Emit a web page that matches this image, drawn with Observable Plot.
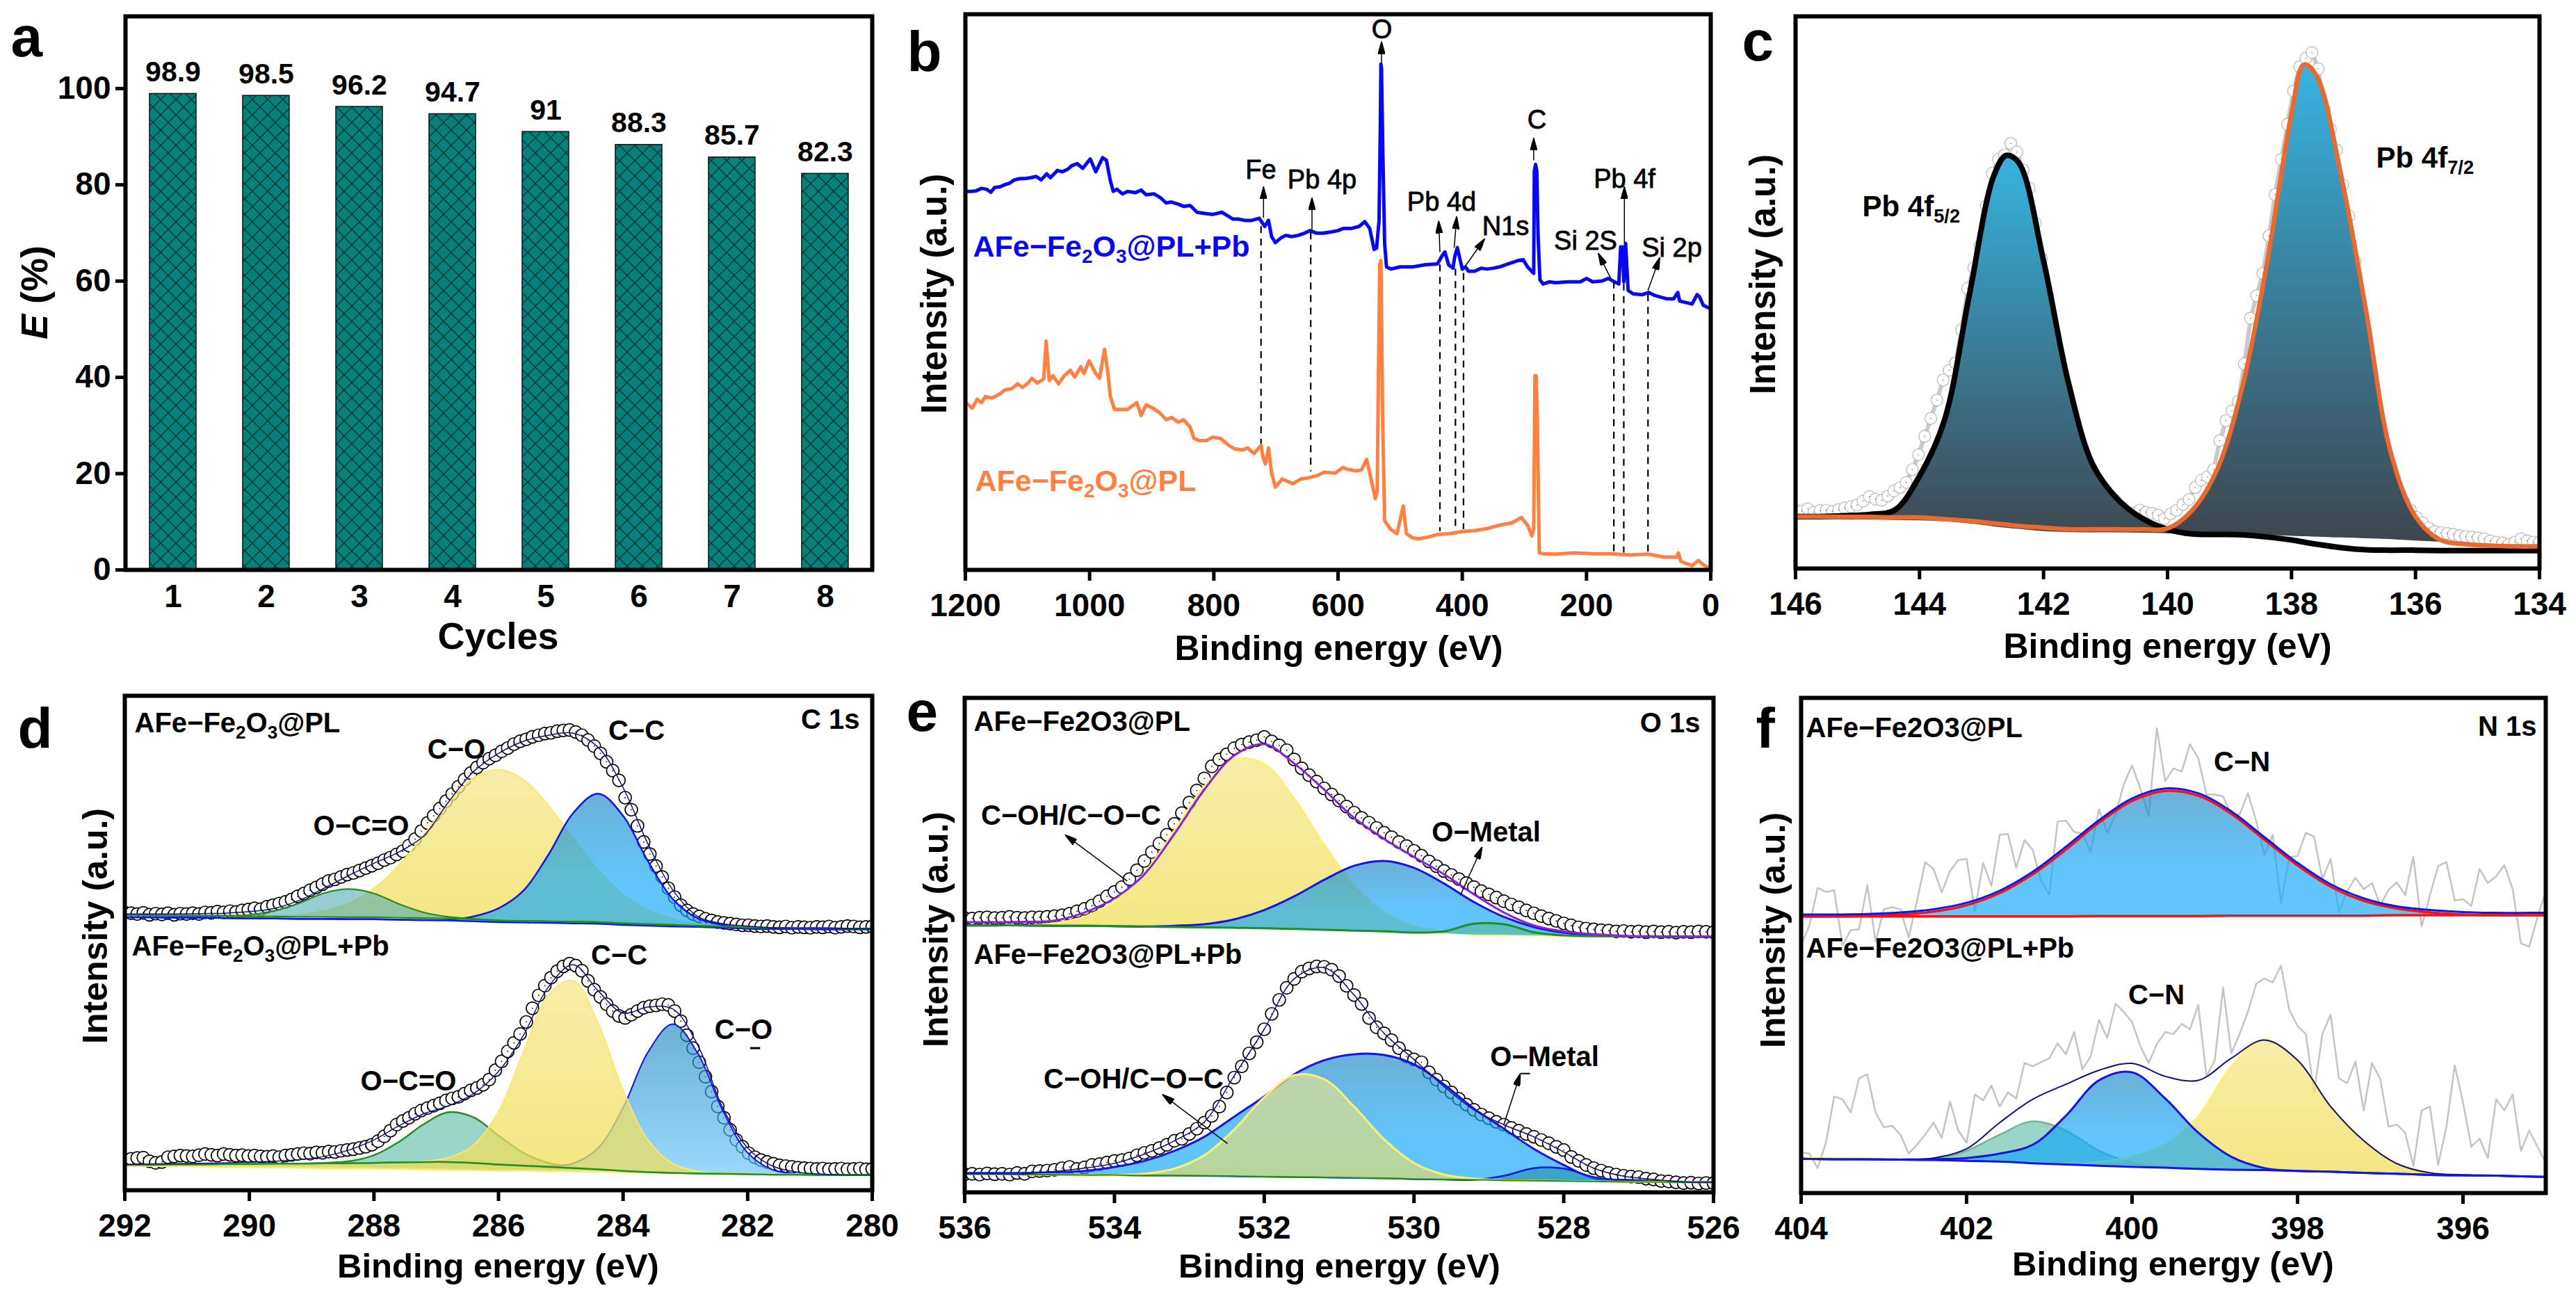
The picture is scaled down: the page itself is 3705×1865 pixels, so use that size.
<!DOCTYPE html>
<html><head><meta charset="utf-8">
<script src="https://cdn.jsdelivr.net/npm/d3@7"></script>
<script src="https://cdn.jsdelivr.net/npm/@observablehq/plot@0.6"></script>
<style>
html,body{margin:0;padding:0;background:#fff}
#page{position:relative;width:3705px;height:1865px;background:#fff;overflow:hidden}
#page svg.panel{position:absolute;overflow:visible}
</style></head><body>
<svg width="0" height="0" style="position:absolute"><defs>
<pattern id="hatch" width="22" height="22" patternUnits="userSpaceOnUse">
<rect width="22" height="22" fill="#05807a"/><path d="M0,0L22,22M22,0L0,22" stroke="#06302e" stroke-width="1.3"/></pattern>
<linearGradient id="cGrad" x1="0" y1="0" x2="0" y2="1"><stop offset="0" stop-color="#36b3e0"/><stop offset="1" stop-color="#3e444c"/></linearGradient>
<linearGradient id="yGrad" x1="0" y1="0" x2="0" y2="1"><stop offset="0" stop-color="#f5e78a"/><stop offset="1" stop-color="#efde56"/></linearGradient>
<linearGradient id="bGrad" x1="0" y1="0" x2="0" y2="1"><stop offset="0" stop-color="#1b86c0"/><stop offset=".65" stop-color="#0da6f9"/><stop offset="1" stop-color="#0da6f9"/></linearGradient>
<linearGradient id="b2Grad" x1="0" y1="0" x2="0" y2="1"><stop offset="0" stop-color="#1b86c0"/><stop offset="1" stop-color="#62c4fb"/></linearGradient>
</defs></svg>
<div id="page"></div>
<script>
// ---------- panel a
const cycles=[1,2,3,4,5,6,7,8];
const efficiency=[98.9,98.5,96.2,94.7,91,88.3,85.7,82.3];
const ticksA=[0,20,40,60,80,100];

// ---------- panel b (survey)
const blueE=[1200,1191,1183,1174,1166,1159,1153,1144,1136,1129,1121,1112,1104,1095,1086,1078,1069,1063,1052,1044,1035,1029,1020,1011,999,990,979,973,966.5,962,956,947,939,926,917,909,896,885,877,868,857,849,838,827,814,802,787,778,769,761,750,739,727,718,712,707,701,692,684,675,664,654,645,634,624,611,600,592,579,566,557,549,542,538,534,532,531,530,528,525,522,515,500,480,460,440,433,428,422,415,412,408,404,400,395,390,380,370,360,350,340,330,320,310,302,295,285,284,282,280,278,275,270,260,250,230,210,200,190,175,165,155,148,145,142,140,137,133,125,110,100,90,70,60,53,50,30,22,18,12,5,0];
const blueI=[887,887,888,894,892,885,896,898,903,906,914,917,917,919,922,914,928,919,936,933,939,947,952,941,963,933,966,960,911,887,892,881,887,884,890,879,881,871,860,862,857,852,854,838,835,833,838,830,822,822,819,819,824,805,819,781,767,778,784,781,784,789,795,789,789,792,795,800,800,805,816,800,751,754,819,1035,1185,1175,985,765,710,705,710,710,715,717,735,745,715,707,735,755,730,705,710,700,700,707,705,707,710,715,720,725,727,710,695,935,950,935,785,680,670,675,673,675,675,683,675,677,683,675,670,757,757,675,765,655,647,645,650,643,635,635,650,630,623,645,640,620,615,613];
const orangeE=[1200,1195,1189,1181,1174,1168,1157,1146,1136,1125,1116,1108,1099,1093,1084,1074,1070,1065,1059,1050,1041,1031,1024,1014,1009,1001,990,984,976,971,966.5,960,951.5,939,924,917,909,898,887,876.5,868,857,849,838,832,823,812,802,789,776,767,754,746,735,724,721,717,712,707,701,690,673,660,647,634,622,604.5,592.5,583,570,562,554,549,540,537,533,531,528,525,515,505,495,490,480,470,455,440,420,400,380,360,340,320,305,295,288,285,283,281,279,276,270,250,220,190,160,130,100,75,55,52,48,30,20,10,0];
const orangeI=[392,387,379,400,392,406,403,411,422,425,436,428,438,449,438,447,536,444,455,436,455,468,452,476,460,490,460,449,517,466,406,376,376,376,392,362,387,379,368,352,357,346,352,335,308,303,303,311,308,292,284,281,286,273,292,265,248,286,227,194,213,202,213,216,221,229,227,240,235,232,235,259,227,167,185,715,725,335,115,95,85,150,85,75,73,77,83,85,90,92,97,105,110,123,105,80,95,455,455,335,40,38,37,40,38,38,35,37,30,30,40,20,10,22,10,3];
const dashesB=[[724,805,295],[644,790,230],[436,715,90],[411,705,90],[398,695,95],[156,675,40],[140,670,40],[101,645,40]];
const arrowsB=[[720,825,720,898],[642,795,642,872],[530,1185,530,1238],[285,960,285,1012],[436,745,438,818],[413,755,409,828],[396,710,364,776],[161,683,181,742],[139,765,139,898],[101,655,82,732]];
const ticksB=[1200,1000,800,600,400,200,0];

// ---------- panel c (Pb 4f)
const fitGridC=[146,145.6,145.2,144.8,144.4,144,143.6,143.2,142.8,142.6,142.4,142,141.6,141.2,140.8,140.4,140,139.6,139.2,138.8,138.4,138,137.8,137.6,137.2,136.8,136.4,136,135.6,135.2,134.8,134.4,134];
const cBlack=[122,122,124,127,137,217,347,639,922,969,952,722,437,242,162,117,92,81,80,79,74,67,62,57,49,44,43,43,42,42,42,42,42];
const cBaseBlack=[115,115,114,114,113,112,110,105,98,95,92,87,85,84,84,83,82,81,80,79,74,67,62,57,49,44,43,43,42,42,42,42,42];
const cOrange=[122,122,121,121,120,120,116,112,106,103,100,96,92,92,92,92,94,137,232,422,712,1067,1182,1157,922,607,272,122,67,57,54,52,52];
const cBase2=[122,122,121,121,120,120,116,112,106,103,100,96,92,92,92,92,82,81,80,79,78,76,75,74,72,70,68,65,62,55,54,52,52];
const cRaw=[137,135,140,132,136,137,134,138,142,145,149,
158,169,163,160,170,182,190,202,232,267,
310,352,395,442,465,482,560,657,705,757,
850,927,960,970,997,977,935,892,810,727,
640,557,490,422,365,312,270,237,205,182,
170,160,145,132,130,137,132,130,125,117,
128,137,150,162,190,207,215,232,300,347,
370,392,480,587,640,692,780,877,960,1042,
1120,1177,1197,1210,1172,1077,1030,982,900,827,
720,612,480,347,295,242,205,177,155,137,
120,107,95,87,84,82,80,77,75,74,
72,70,65,62,60,57,62,70,65,62,62];
const ticksC=[146,144,142,140,138,136,134];

// ---------- panel d (C 1s)
const fitGridD=[292,291.6,291.2,290.8,290.4,290,289.6,289.2,288.8,288.4,288,287.6,287.2,286.8,286.4,286,285.6,285.2,284.8,284.4,284,283.6,283.2,282.8,282.4,282,281.6,281.2,280.8,280.4,280];
const dTopBase=[683,683,682,682,681,680,680,679,679,678,678,677,676,675,673,670,669,668,667,666,663,661,659,657,655,653,652,651,651,650,650];
const dTopBlueBase=[678,678,677,677,676,675,675,674,674,673,673,672,671,670,668,666,665,664,663,662,659,657,655,654,652,650,649,649,648,648,648];
const dTopYellow=[683,683,682,682,681,680,682,684,694,713,750,807,883,963,1024,1045,1020,956,874,796,735,696,674,662,657,653,652,651,651,650,650];
const dTopBlue=[678,678,677,677,676,675,675,674,674,673,673,672,671,672,680,700,744,833,937,985,930,817,723,675,659,650,649,649,648,648,648];
const dTopGreen=[683,683,682,682,682,684,694,713,738,748,737,711,690,679,674,670,669,668,667,666,663,661,659,657,655,653,652,651,651,650,650];
const dTopFit=[686,686,686,687,688,692,700,720,750,782,812,840,880,965,1040,1085,1115,1130,1135,1100,1000,860,745,680,662,656,652,651,651,650,650];
const dTopRaw=[690,688,686,689,684,687,685,688,684,687,686,
688,686,690,689,692,690,693,691,695,697,
700,698,704,708,712,716,722,730,737,745,
752,760,768,772,778,784,788,794,800,806,
812,820,826,834,842,856,872,892,912,930,
948,966,984,1002,1020,1036,1050,1062,1072,1080,
1090,1098,1108,1115,1120,1126,1130,1134,1136,1140,
1142,1143,1138,1130,1118,1103,1085,1064,1042,1018,
975,945,905,865,835,805,778,750,728,708,
695,686,680,674,670,666,664,662,660,658,
658,656,655,656,654,653,655,652,654,653,
652,654,653,655,652,654,656,655,653,654,655];
const dBotBase=[63,63,64,64,65,65,66,66,67,67,68,69,70,70,68,64,61,58,55,52,48,45,43,42,41,40,39,39,38,38,38];
const dBotLowBase=[61,60,60,59,58,58,57,56,55,55,54,53,52,51,50,49,49,48,47,46,45,44,44,43,42,41,40,40,39,39,38];
const dBotYellow=[63,63,64,64,65,65,66,66,67,67,68,69,72,81,112,196,343,485,521,414,249,125,66,47,42,41,40,40,39,39,38];
const dBotBlue=[63,63,64,64,65,65,66,66,67,67,68,69,70,70,68,64,61,60,67,105,205,343,413,340,198,93,51,41,38,38,38];
const dBotGreen=[63,63,64,64,65,65,66,66,68,72,87,120,164,194,181,136,93,68,58,52,48,45,43,42,41,40,39,39,38,38,38];
const dBotFit=[64,65,66,67,68,70,72,76,84,100,125,160,190,210,240,295,385,505,560,495,440,455,450,360,205,105,60,45,40,38,38];
const dBotRaw=[76,78,80,81,72,68,70,82,84,86,85,
84,87,90,88,86,90,88,86,87,85,
86,84,83,85,82,86,88,90,92,91,
94,93,96,95,98,100,102,105,108,113,
122,134,148,163,172,180,190,198,204,210,
216,223,228,232,240,248,254,262,275,298,
320,345,366,388,418,452,484,508,528,544,
556,563,558,545,520,498,480,462,445,433,
428,436,445,453,457,459,462,460,445,420,
385,353,318,282,245,208,180,150,125,108,
92,82,75,70,66,62,60,58,56,55,
54,53,54,52,53,54,52,53,54,52,53];
const strayD=[[281.96,353,281.8,353]];
const ticksD=[292,290,288,286,284,282,280];

// ---------- panel e (O 1s)
const fitGridE=[536,535.6,535.2,534.8,534.4,534,533.6,533.2,532.8,532.4,532,531.6,531.2,530.8,530.4,530,529.6,529.2,528.8,528.4,528,527.6,527.2,526.8,526.4,526];
const eTopBase=[663,663,663,662,662,661,660,659,658,657,656,654,652,650,648,645,643,640,639,638,637,636,636,635,635,635];
const eTopYellow=[663,663,663,669,685,723,794,899,1009,1076,1064,979,864,763,697,662,648,640,639,638,637,636,636,635,635,635];
const eTopBlue=[663,663,663,662,662,661,660,662,666,678,701,735,776,811,823,806,767,721,684,659,645,639,636,635,635,635];
const eTopGreen=[663,663,663,662,662,661,660,659,658,657,656,654,652,650,648,645,648,667,666,646,638,636,636,635,635,635];
const eTopFit=[671,671,672,675,695,730,790,890,1000,1085,1113,1065,1000,930,878,833,790,740,695,663,648,641,637,636,635,635];
const eTopRaw=[681,680,682,683,681,682,684,682,681,683,683,
684,686,688,692,698,704,712,723,735,746,
758,778,800,823,845,866,888,915,942,968,
998,1028,1058,1075,1088,1103,1112,1118,1123,1131,
1120,1110,1098,1075,1053,1036,1020,1003,988,973,
958,943,930,918,905,893,882,870,860,848,
836,822,810,798,788,778,768,758,748,740,
732,723,715,708,700,693,686,680,674,668,
663,658,655,653,651,650,648,649,647,648,
646,648,646,647,645,647,646,648,647,646];
const eBotBase=[45,45,44,44,43,43,42,42,41,40,39,38,37,36,35,33,32,31,30,29,28,27,26,26,25,25];
const eBotBlue=[48,48,48,50,53,63,78,103,138,188,238,293,328,343,341,318,268,208,158,108,68,35,31,28,26,25];
const eBotYellow=[45,45,44,44,43,43,46,59,92,156,236,291,281,213,132,73,44,34,30,29,28,27,26,26,25,25];
const eBotSmall=[45,45,44,44,43,43,42,42,41,40,39,38,37,36,35,33,32,31,41,60,59,38,29,26,25,25];
const eBotFit=[46,46,46,52,60,72,95,128,175,290,405,530,558,490,395,330,263,205,168,138,100,60,40,32,26,25];
const eBotRaw=[45,46,44,47,45,46,44,48,46,52,53,
54,56,60,63,58,62,68,70,74,78,
80,84,92,98,103,110,118,128,133,145,
158,173,190,213,248,285,313,345,373,405,
443,478,508,530,548,556,561,560,553,537,
513,490,468,433,410,395,378,358,338,330,
323,298,280,263,248,232,218,205,193,184,
175,168,160,153,145,138,130,122,113,105,
88,78,68,60,54,48,44,41,39,38,
34,32,28,27,25,23,24,22,23,23];
const arrowsE=[[533.83,773,534.66,888],[529.38,738,529.09,858],[532.49,121,533.36,243],[528.8,168,528.58,295]];
const flagE=[[528.58,295,528.45,295]];
const ticksE=[536,534,532,530,528,526];

// ---------- panel f (N 1s)
const fitGridF=[404,403.6,403.2,402.8,402.4,402,401.6,401.2,400.8,400.4,400,399.6,399.2,398.8,398.4,398,397.6,397.2,396.8,396.4,396,395.6,395.2,395];
const fTopBase=[687,687,687,687,687,687,687,687,687,688,688,688,688,689,689,689,689,689,690,690,690,690,690,690];
const fTopRed=[687,687,689,692,699,715,745,792,853,920,974,999,987,942,878,814,761,726,707,697,692,690,690,690];
const fTopBlue=[692,692,693,697,705,721,751,798,860,926,980,1005,993,948,884,820,767,732,712,703,698,696,696,696];
const fTopRaw=[615,665,758,748,752,615,653,655,765,625,705,710,705,635,725,822,805,747,800,827,830,700,820,763,890,892,808,877,852,775,742,923,925,897,893,848,953,895,940,1015,1062,1005,937,1155,1023,1055,1047,1115,1080,990,990,985,940,940,993,925,840,890,720,835,837,895,885,780,830,697,750,783,755,770,715,753,772,740,835,662,740,812,822,727,730,713,805,770,787,815,755,620,612,685,750];
const fBotBase=[85,84,84,83,82,80,78,74,71,68,65,63,60,58,57,55,53,50,48,45,44,43,41,40];
const fBotYellow=[87,86,85,85,84,82,79,76,73,77,90,120,190,315,380,330,215,130,73,50,45,43,41,40];
const fBotBlue=[85,84,84,83,84,87,98,120,192,280,300,235,150,90,62,55,53,50,48,45,44,43,41,40];
const fBotGreen=[85,84,84,83,83,105,145,178,155,105,75,64,60,58,57,55,53,50,48,45,44,43,41,40];
const fBotFit=[85,84,84,84,87,110,175,233,270,305,322,290,280,335,380,330,215,130,73,50,45,43,41,40];
const fBotRaw=[100,98,62,125,240,233,200,285,295,200,163,167,145,98,120,145,175,137,227,155,125,245,230,267,215,250,235,323,315,325,335,372,345,400,307,340,430,385,470,450,425,365,323,370,400,395,420,407,467,290,330,510,347,395,450,520,533,523,565,455,415,395,250,395,443,285,273,327,205,323,283,165,170,150,67,205,215,70,165,317,225,115,135,87,233,205,245,105,155,115,75];
const ticksF=[404,402,400,398,396];

// ---------- helpers
const FONT="'Liberation Sans',Arial,sans-serif";
const page=document.getElementById("page");
const scan=(hi,lo,n)=>d3.range(n).map(i=>hi-(hi-lo)*i/(n-1));
const CURVE="catmull-rom";

function arrowHead(){
  const ns="http://www.w3.org/2000/svg";
  const m=document.createElementNS(ns,"marker");
  m.setAttribute("viewBox","-18 -5 18 10");
  m.setAttribute("markerWidth","18");m.setAttribute("markerHeight","10");
  m.setAttribute("markerUnits","userSpaceOnUse");m.setAttribute("orient","auto");
  const p=document.createElementNS(ns,"path");
  p.setAttribute("d","M0,0L-18,-5L-18,5Z");p.setAttribute("fill","#000");
  m.appendChild(p);return m;
}
function richText(svg){
  svg.querySelectorAll("text").forEach(t=>{
    const s=t.textContent;
    if(!/_\{|\*/.test(s))return;
    t.textContent="";
    let back=false;
    s.split(/(_\{[^}]*\}|\*[^*]*\*)/).filter(Boolean).forEach(part=>{
      const sp=document.createElementNS("http://www.w3.org/2000/svg","tspan");
      if(part.startsWith("_{")){
        sp.textContent=part.slice(2,-1);sp.setAttribute("font-size","65%");sp.setAttribute("dy","0.35em");back=true;
      }else{
        if(part.startsWith("*")){sp.textContent=part.slice(1,-1);sp.setAttribute("font-style","italic");}
        else sp.textContent=part;
        if(back){sp.setAttribute("dy","-0.2275em");back=false;}
      }
      t.appendChild(sp);
    });
  });
}
function noteFn(f){
  return (txt,px,py,opt={})=>Plot.text([txt],{text:d=>d,frameAnchor:"top-left",dx:px-f.l,dy:py-f.t,textAnchor:"start",lineAnchor:"bottom",fontSize:40,fontWeight:"bold",fill:"#000",...opt});
}
function peak(xs,base,vals,{fill,op=1,stroke,sw=2.5}){
  const idx=d3.range(xs.length),out=[];
  if(fill)out.push(Plot.areaY(idx,{x:i=>xs[i],y1:i=>base[i],y2:i=>vals[i],curve:CURVE,fill,fillOpacity:op}));
  if(stroke)out.push(Plot.line(idx,{x:i=>xs[i],y:i=>vals[i],curve:CURVE,stroke,strokeWidth:sw}));
  return out;
}
function curve(xs,vals,stroke,sw,curveName=CURVE){
  const idx=d3.range(xs.length);
  return Plot.line(idx,{x:i=>xs[i],y:i=>vals[i],curve:curveName,stroke,strokeWidth:sw,clip:"frame"});
}
function rawDots(xs,vals,{r=9,stroke="#000",sw=1.7,fill="#fff",core="#000"}={}){
  const idx=d3.range(xs.length);
  return [
    Plot.dot(idx,{x:i=>xs[i],y:i=>vals[i],r,stroke,strokeWidth:sw,fill,clip:"frame"}),
    Plot.dot(idx,{x:i=>xs[i],y:i=>vals[i],r:.9,fill:core,stroke:"none",clip:"frame"})
  ];
}
function xAxis(ticks,{tickSize=16,tickPadding=18}={}){
  return Plot.axisX(ticks,{tickSize,tickPadding,fontSize:46,fontWeight:"bold",strokeWidth:5,tickFormat:d=>String(d),label:null,anchor:"bottom"});
}
function draw(box,f,xScale,yMax,marks){
  const plot=Plot.plot({
    width:box[2]-box[0],height:box[3]-box[1],
    marginLeft:f.l-box[0],marginRight:box[2]-f.r,marginTop:f.t-box[1],marginBottom:box[3]-f.b,
    x:xScale,y:{domain:[0,yMax],axis:null},
    style:{fontFamily:FONT,background:"transparent",overflow:"visible",color:"#000"},
    marks
  });
  plot.classList.add("panel");
  plot.style.left=box[0]+"px";plot.style.top=box[1]+"px";
  richText(plot);
  page.appendChild(plot);
}
const rowTitle=(n,cx,y,size=50)=>n("Binding energy (eV)",cx,y,{textAnchor:"middle",fontSize:size});
const yTitle=(n,t,cx,cy,size=51)=>n(t,cx,cy,{rotate:-90,textAnchor:"middle",lineAnchor:"middle",fontSize:size});

// ---------- a
{
  const f={l:180,r:1254,t:23,b:819},n=noteFn(f);
  const plot=Plot.plot({
    width:1290,height:960,marginLeft:f.l,marginRight:1290-f.r,marginTop:f.t,marginBottom:960-f.b,
    x:{type:"band",domain:cycles,paddingInner:.5,paddingOuter:.25},
    y:{domain:[0,115]},
    style:{fontFamily:FONT,background:"transparent",overflow:"visible",color:"#000"},
    marks:[
      Plot.barY(efficiency,{x:(d,i)=>cycles[i],y:d=>d,fill:"url(#hatch)",stroke:"#111",strokeWidth:1.5}),
      Plot.text(efficiency,{x:(d,i)=>cycles[i],y:d=>d,text:d=>String(d),dy:-18,lineAnchor:"bottom",fontSize:41,fontWeight:"bold"}),
      Plot.axisX({tickSize:0,tickPadding:21,fontSize:46,fontWeight:"bold",label:null,tickFormat:d=>String(d)}),
      Plot.axisY(ticksA,{tickSize:14,tickPadding:7,fontSize:46,fontWeight:"bold",strokeWidth:5,label:null,tickFormat:d=>String(d)}),
      Plot.frame({stroke:"#000",strokeWidth:6}),
      n("a",15,80,{fontSize:82}),
      n("Cycles",716,932,{textAnchor:"middle",fontSize:54}),
      yTitle(n,"*E* (%)",50,420,54)
    ]
  });
  plot.classList.add("panel");plot.style.left="0px";plot.style.top="0px";richText(plot);page.appendChild(plot);
}
// ---------- b
{
  const f={l:1388,r:2460,t:20,b:819},n=noteFn(f),S=38;
  draw([1290,0,2490,960],f,{domain:[1200,0]},1302,[
    curve(orangeE,orangeI,"#ff8040",5,"linear"),
    curve(blueE,blueI,"#0808f0",5,"linear"),
    Plot.ruleX(dashesB,{x:d=>d[0],y1:d=>d[1],y2:d=>d[2],stroke:"#000",strokeWidth:2.2,strokeDasharray:"10,8"}),
    Plot.link(arrowsB,{x1:d=>d[0],y1:d=>d[1],x2:d=>d[2],y2:d=>d[3],stroke:"#000",strokeWidth:1.5,markerEnd:arrowHead}),
    xAxis(ticksB),
    Plot.frame({stroke:"#000",strokeWidth:6}),
    n("b",1304,101,{fontSize:82}),
    rowTitle(n,1925,948),
    yTitle(n,"Intensity (a.u.)",1344,422),
    ...[["O",1987,54],["C",2210,184],["Fe",1813,256],["Pb 4p",1901,270],["Pb 4d",2073,302],["N1s",2165,337],["Pb 4f",2336,269],["Si 2S",2280,358],["Si 2p",2404,368]]
      .map(([t,x,y])=>n(t,x,y,{textAnchor:"middle",fontSize:S,fontWeight:"normal",stroke:"#000",strokeWidth:.8})),
    n("AFe−Fe_{2}O_{3}@PL+Pb",1399,368,{fontSize:43,fill:"#0808f0"}),
    n("AFe−Fe_{2}O_{3}@PL",1402,705,{fontSize:43,fill:"#ff8040"})
  ]);
}
// ---------- c
{
  const f={l:2582,r:3652,t:23,b:817},n=noteFn(f);
  const rawX=scan(146,134,cRaw.length);
  draw([2490,0,3705,960],f,{domain:[146,134]},1295,[
    curve(rawX,cRaw,"#c9c9c9",6,"linear"),
    ...rawDots(rawX,cRaw,{r:8.5,stroke:"#b5b5b5",sw:1.2,core:"#888"}),
    ...peak(fitGridC,cBaseBlack,cBlack,{fill:"url(#cGrad)"}),
    ...peak(fitGridC,cBase2,cOrange,{fill:"url(#cGrad)"}),
    curve(fitGridC,cBlack,"#000",8),
    curve(fitGridC,cOrange,"#e86a2e",6.5),
    xAxis(ticksC),
    Plot.frame({stroke:"#000",strokeWidth:6}),
    n("c",2505,86,{fontSize:82}),
    rowTitle(n,3117,945),
    yTitle(n,"Intensity (a.u.)",2536,394),
    n("Pb 4f_{5/2}",2678,310,{fontSize:42}),
    n("Pb 4f_{7/2}",3417,240,{fontSize:42})
  ]);
}
// ---------- d
{
  const f={l:179,r:1254,t:1000,b:1711},n=noteFn(f);
  const g=fitGridD,rawX=scan(292,280,dTopRaw.length);
  draw([0,960,1290,1865],f,{domain:[292,280]},1228,[
    ...rawDots(rawX,dTopRaw),
    ...rawDots(rawX,dBotRaw),
    ...peak(g,dTopBase,dTopYellow,{fill:"url(#yGrad)",op:.74,stroke:"#fbe96c",sw:2}),
    ...peak(g,dTopBase,dTopGreen,{fill:"#4eacb1",op:.6}),
    ...peak(g,dTopBlueBase,dTopBlue,{fill:"url(#bGrad)",op:.65,stroke:"#1414e8",sw:2.5}),
    curve(g,dTopBlueBase,"#1414e8",2.5),
    curve(g,dTopGreen,"#1f8f1f",2.2),
    curve(g,dTopBase,"#1f8f1f",2.2),
    curve(g,dTopFit,"#10107a",1.5),
    ...peak(g,dBotLowBase,dBotGreen,{fill:"#57bba3",op:.6,stroke:"#1f8f1f",sw:2.5}),
    ...peak(g,dBotBase,dBotBlue,{fill:"url(#b2Grad)",op:.65,stroke:"#1414e8",sw:2}),
    ...peak(g,dBotLowBase,dBotYellow,{fill:"url(#yGrad)",op:.74,stroke:"#fbe96c",sw:2}),
    curve(g,dBotLowBase,"#fbe96c",2.5),
    curve(g,dBotBase,"#1f8f1f",2.5),
    curve(g,dBotFit,"#10107a",1.5),
    Plot.link(strayD,{x1:d=>d[0],y1:d=>d[1],x2:d=>d[2],y2:d=>d[3],stroke:"#000",strokeWidth:3}),
    xAxis(ticksD),
    Plot.frame({stroke:"#000",strokeWidth:6}),
    n("d",25,1074,{fontSize:82}),
    rowTitle(n,716,1836,49),
    yTitle(n,"Intensity (a.u.)",137,1331,50),
    n("AFe−Fe_{2}O_{3}@PL",193,1052),
    n("C 1s",1236,1047,{textAnchor:"end"}),
    n("C−O",656,1090,{textAnchor:"middle"}),
    n("C−C",915,1063,{textAnchor:"middle"}),
    n("O−C=O",519,1200,{textAnchor:"middle"}),
    n("AFe−Fe_{2}O_{3}@PL+Pb",189,1373),
    n("C−C",890,1386,{textAnchor:"middle"}),
    n("C−O",1069,1493,{textAnchor:"middle"}),
    n("O−C=O",587,1567,{textAnchor:"middle"})
  ]);
}
// ---------- e
{
  const f={l:1387,r:2464,t:1003,b:1714},n=noteFn(f);
  const g=fitGridE,rawX=scan(536,526,eTopRaw.length);
  draw([1290,960,2490,1865],f,{domain:[536,526]},1228,[
    ...rawDots(rawX,eTopRaw),
    ...rawDots(rawX,eBotRaw),
    ...peak(g,eTopBase,eTopYellow,{fill:"url(#yGrad)",op:.74,stroke:"#fff06a",sw:2.5}),
    ...peak(g,eTopBase,eTopBlue,{fill:"url(#bGrad)",op:.65,stroke:"#1414e8",sw:3}),
    ...peak(g,eTopBase,eTopGreen,{fill:"#57bba3",op:.6,stroke:"#1f8f1f",sw:3}),
    curve(g,eTopFit,"#8a22d8",3),
    ...peak(g,eBotBase,eBotBlue,{fill:"url(#bGrad)",op:.65,stroke:"#1414e8",sw:3}),
    ...peak(g,eBotBase,eBotSmall,{fill:"#1f8fa0",op:.6,stroke:"#1414e8",sw:2.5}),
    ...peak(g,eBotBase,eBotYellow,{fill:"url(#yGrad)",op:.6,stroke:"#fff06a",sw:3}),
    curve(g,eBotBase,"#1f8f1f",2),
    curve(g,eBotFit,"#10107a",1.5),
    Plot.link(arrowsE,{x1:d=>d[0],y1:d=>d[1],x2:d=>d[2],y2:d=>d[3],stroke:"#000",strokeWidth:1.5,markerEnd:arrowHead}),
    Plot.link(flagE,{x1:d=>d[0],y1:d=>d[1],x2:d=>d[2],y2:d=>d[3],stroke:"#000",strokeWidth:2}),
    xAxis(ticksE),
    Plot.frame({stroke:"#000",strokeWidth:6}),
    n("e",1303,1050,{fontSize:82}),
    rowTitle(n,1926,1836,49),
    yTitle(n,"Intensity (a.u.)",1346,1336,50),
    n("AFe−Fe2O3@PL",1400,1050),
    n("O 1s",2445,1052,{textAnchor:"end"}),
    n("C−OH/C−O−C",1540,1185,{textAnchor:"middle"}),
    n("O−Metal",2137,1209,{textAnchor:"middle"}),
    n("AFe−Fe2O3@PL+Pb",1400,1385),
    n("C−OH/C−O−C",1630,1564,{textAnchor:"middle"}),
    n("O−Metal",2221,1532,{textAnchor:"middle"})
  ]);
}
// ---------- f
{
  const f={l:2590,r:3661,t:1003,b:1715},n=noteFn(f);
  const g=fitGridF,rawX=scan(404,395,fTopRaw.length);
  draw([2490,960,3705,1865],f,{domain:[404,395]},1230,[
    curve(rawX,fTopRaw,"#c4c4c4",2.5,"linear"),
    curve(rawX,fBotRaw,"#c4c4c4",2.5,"linear"),
    ...peak(g,fTopBase,fTopRed,{fill:"url(#bGrad)",op:.65}),
    curve(g,fTopBase,"#f01414",3.5),
    curve(g,fTopRed,"#f01414",3.5),
    curve(g,fTopBlue,"#1414e8",3),
    ...peak(g,fBotBase,fBotGreen,{fill:"#57bba3",op:.6,stroke:"#6db890",sw:2.5}),
    ...peak(g,fBotBase,fBotYellow,{fill:"url(#yGrad)",op:.74,stroke:"#fff06a",sw:3}),
    ...peak(g,fBotBase,fBotBlue,{fill:"url(#bGrad)",op:.65,stroke:"#1414e8",sw:3}),
    curve(g,fBotFit,"#10107a",2),
    curve(g,fBotBase,"#1414e8",3),
    xAxis(ticksF),
    Plot.frame({stroke:"#000",strokeWidth:6}),
    n("f",2525,1074,{fontSize:82}),
    rowTitle(n,3125,1833,49),
    yTitle(n,"Intensity (a.u.)",2550,1337,50),
    n("AFe−Fe2O3@PL",2597,1059),
    n("N 1s",3648,1057,{textAnchor:"end"}),
    n("C−N",3224,1108,{textAnchor:"middle"}),
    n("AFe−Fe2O3@PL+Pb",2597,1376),
    n("C−N",3101,1443,{textAnchor:"middle"})
  ]);
}
</script>
</body></html>
